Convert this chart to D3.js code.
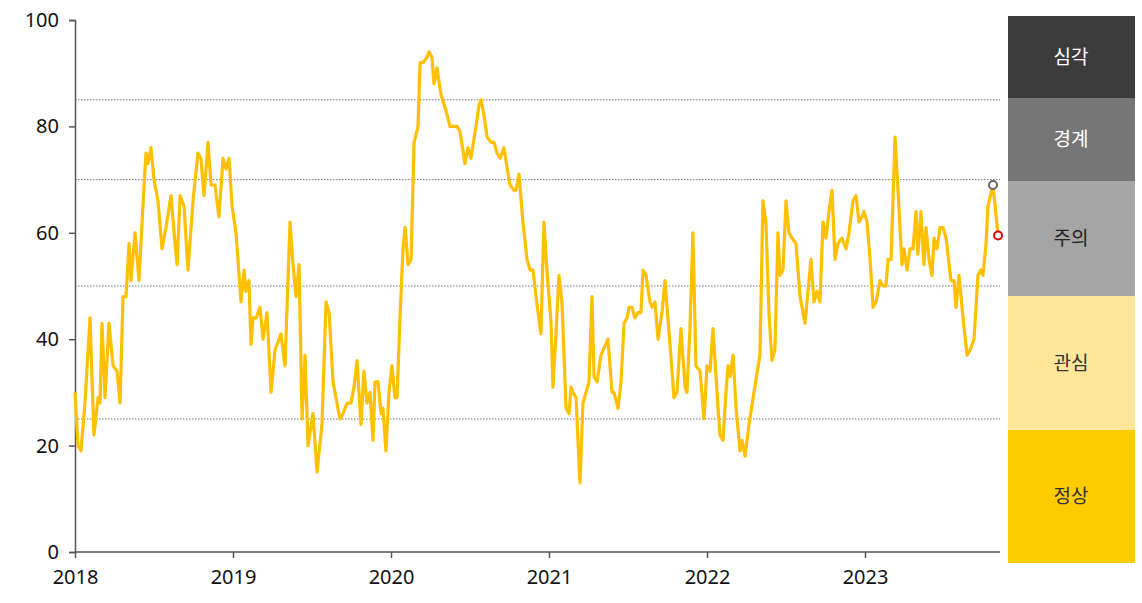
<!DOCTYPE html><html><head><meta charset="utf-8">
<script src="https://cdn.jsdelivr.net/npm/d3@7"></script>
<style>body{margin:0;background:#fff;font-family:"Noto Sans CJK KR","Noto Sans",sans-serif}</style></head><body>
<svg id="c" width="1142" height="603"></svg>
<script>
const yearsOffset=[0,.019,.038,.063,.095,.120,.146,.158,.171,.190,.215,.241,.266,.285,.304,.323,.342,.354,.380,.405,.430,.449,.462,.481,.500,.525,.551,.576,.608,.627,.646,.665,.690,.715,.747,.778,.797,.816,.842,.861,.886,.911,.937,.956,.975,.994,1.019,1.051,1.070,1.082,1.101,1.114,1.127,1.146,1.171,1.190,1.215,1.241,1.266,1.291,1.304,1.329,1.361,1.380,1.399,1.418,1.437,1.456,1.475,1.506,1.532,1.563,1.589,1.608,1.633,1.658,1.677,1.696,1.722,1.747,1.766,1.785,1.810,1.829,1.848,1.867,1.886,1.899,1.918,1.937,1.949,1.968,1.987,2.006,2.025,2.038,2.057,2.076,2.089,2.108,2.127,2.146,2.171,2.184,2.203,2.228,2.241,2.259,2.272,2.291,2.316,2.348,2.373,2.392,2.418,2.437,2.468,2.487,2.506,2.538,2.557,2.570,2.589,2.608,2.633,2.652,2.671,2.690,2.715,2.741,2.753,2.778,2.791,2.810,2.835,2.861,2.880,2.899,2.918,2.949,2.968,2.987,3.013,3.025,3.044,3.063,3.082,3.108,3.127,3.139,3.152,3.171,3.196,3.215,3.234,3.253,3.272,3.285,3.304,3.329,3.373,3.399,3.411,3.437,3.456,3.475,3.494,3.506,3.525,3.544,3.563,3.582,3.595,3.614,3.639,3.652,3.671,3.690,3.715,3.734,3.766,3.791,3.810,3.835,3.861,3.873,3.892,3.911,3.930,3.956,3.981,4.000,4.019,4.038,4.057,4.070,4.082,4.101,4.120,4.133,4.146,4.165,4.184,4.209,4.222,4.241,4.266,4.297,4.335,4.354,4.373,4.392,4.411,4.430,4.449,4.462,4.481,4.500,4.519,4.538,4.563,4.589,4.620,4.658,4.677,4.696,4.715,4.734,4.753,4.772,4.791,4.810,4.829,4.854,4.880,4.899,4.924,4.943,4.962,4.981,4.994,5.013,5.032,5.051,5.070,5.095,5.114,5.133,5.146,5.165,5.190,5.209,5.234,5.247,5.266,5.285,5.304,5.323,5.335,5.354,5.373,5.386,5.405,5.424,5.437,5.456,5.475,5.494,5.513,5.544,5.563,5.576,5.595,5.620,5.646,5.665,5.690,5.715,5.734,5.747,5.766,5.778,5.810,5.842];
const values=[30,20,19,28,44,22,29,28,43,29,43,35,34,28,48,48,58,51,60,51,65,75,73,76,70,66,57,61,67,60,54,67,65,53,66,75,74,67,77,69,69,63,74,72,74,65,60,47,53,49,51,39,44,44,46,40,45,30,38,40,41,35,62,54,48,54,25,37,20,26,15,24,47,45,32,28,25,26,28,28,31,36,24,34,28,30,21,32,32,26,27,19,30,35,29,29,44,57,61,54,55,77,80,92,92,93,94,93,88,91,86,83,80,80,80,79,73,76,74,80,84,85,82,78,77,77,75,74,76,71,69,68,68,71,62,55,53,53,48,41,62,53,43,31,41,52,47,27,26,31,30,29,13,28,30,32,48,33,32,37,40,30,30,27,32,43,44,46,46,44,45,45,53,52,47,46,47,40,45,51,39,29,30,42,31,30,42,60,35,34,25,35,34,42,33,27,22,21,30,35,33,37,27,19,21,18,24,30,37,66,62,45,36,38,60,52,53,66,60,59,58,48,43,55,47,49,47,62,59,64,68,55,58,59,57,60,66,67,62,63,64,62,55,46,47,51,50,50,55,55,78,68,54,57,53,57,57,64,56,64,54,61,55,52,59,57,61,61,59,51,51,46,52,44,37,38,40,52,53,52,58,65,69,59.5];
const startYear=2018;
const yearTicks=[2018,2019,2020,2021,2022,2023];
const yTicks=[0,20,40,60,80,100];
const gridLevels=[25,50,70,85];
const bands=[{label:"심각",lo:85,hi:100,color:"#3b3b3b",text:"#fff"},{label:"경계",lo:70,hi:85,color:"#767676",text:"#fff"},{label:"주의",lo:50,hi:70,color:"#a5a5a5",text:"#222"},{label:"관심",lo:25,hi:50,color:"#ffe699",text:"#333"},{label:"정상",lo:0,hi:25,color:"#ffcc00",text:"#333"}];
const bandPix=[[16,98],[98,181],[181,296],[296,430],[430,563]];

const svg=d3.select("#c");
const L=75,R=1000,T=20,B=552;
const x=d3.scaleLinear().domain([2018,2018+(R-L)/158]).range([L,R]);
const y=d3.scaleLinear().domain([0,100]).range([B,T]);
const data=yearsOffset.map((d,i)=>({t:startYear+d,v:values[i]}));

svg.append("g").selectAll("line").data(gridLevels).join("line")
 .attr("x1",L).attr("x2",R).attr("y1",d=>y(d)).attr("y2",d=>y(d))
 .attr("stroke","#777").attr("stroke-width",1).attr("stroke-dasharray","1.5,1.5");

const ya=svg.append("g").attr("transform",`translate(${L},0)`).call(d3.axisLeft(y).tickValues(yTicks).tickSize(6).tickPadding(10));
const xa=svg.append("g").attr("transform",`translate(0,${B})`).call(d3.axisBottom(x).tickValues(yearTicks).tickFormat(d3.format("d")).tickSize(6).tickPadding(12));
[ya,xa].forEach(a=>{a.selectAll("path,line").attr("stroke","#555").attr("stroke-width",1.5);a.selectAll("text").attr("font-size",20).attr("fill","#111").attr("font-family","Noto Sans, sans-serif");});
xa.select(".domain").attr("d",`M${L},0H${R}`);

svg.append("path").datum(data).attr("fill","none").attr("stroke","#ffc000").attr("stroke-width",3.2).attr("stroke-linejoin","round")
 .attr("d",d3.line().x(d=>x(d.t)).y(d=>y(d.v)));
const prev=data[data.length-2],last=data[data.length-1];
svg.append("circle").attr("cx",x(prev.t)).attr("cy",y(prev.v)).attr("r",4).attr("fill","#fff").attr("stroke","#666").attr("stroke-width",2);
svg.append("circle").attr("cx",x(last.t)).attr("cy",y(last.v)).attr("r",4).attr("fill","#fff").attr("stroke","#e00000").attr("stroke-width",2);

const bg=svg.append("g");
bands.forEach((b,i)=>{
 const [y0,y1]=bandPix[i];
 bg.append("rect").attr("x",1008).attr("y",y0).attr("width",127).attr("height",y1-y0).attr("fill",b.color);
 bg.append("text").attr("x",1071).attr("y",(y0+y1)/2).attr("dy","0.35em").attr("text-anchor","middle").attr("font-size",19).attr("fill",b.text).text(b.label);
});
</script></body></html>
